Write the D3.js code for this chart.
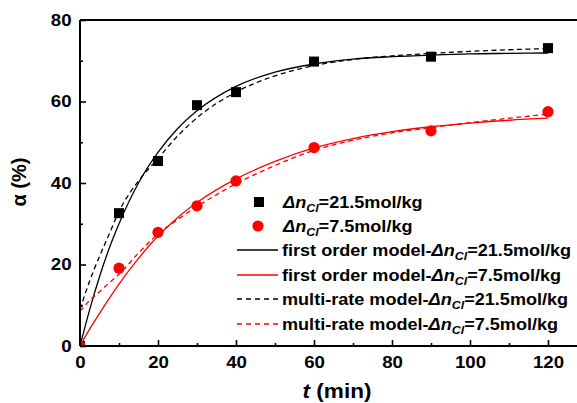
<!DOCTYPE html>
<html>
<head>
<meta charset="utf-8">
<script src="https://cdn.jsdelivr.net/npm/d3@7"></script>
<style>
  html, body { margin: 0; padding: 0; background: #fff; }
  svg { display: block; }
  text { font-family: "Liberation Sans", Arial, sans-serif; font-weight: bold; }
</style>
</head>
<body>
<svg id="chart" width="577" height="403"></svg>
<script>
// ---- data ----
const sampleTimes = [0, 10, 20, 30, 40, 60, 90, 120];
const exp21 = [0, 32.6, 45.4, 59.1, 62.3, 69.8, 71.0, 73.1];
const exp75 = [0, 19.1, 27.9, 34.4, 40.5, 48.7, 52.8, 57.5];

const modelTimes = [0, 2.5, 5, 7.5, 10, 15, 20, 25, 30, 40, 50, 60, 70, 80, 90, 100, 110, 120];
const firstOrder21 = [0, 9.0, 17.0, 24.0, 30.0, 40.0, 47.5, 53.3, 57.7, 63.7, 67.2, 69.2, 70.4, 71.0, 71.4, 71.7, 71.8, 71.9];
const firstOrder75 = [0, 4.2, 8.0, 11.7, 15.2, 21.5, 27.0, 31.5, 35.2, 41.0, 45.3, 48.6, 50.9, 52.6, 53.8, 54.7, 55.4, 55.9];
const multiRate21 = [9.0, 16.0, 22.0, 27.5, 33.0, 40.5, 46.0, 51.5, 56.0, 62.3, 66.3, 68.8, 70.3, 71.2, 71.8, 72.3, 72.7, 73.0];
const multiRate75 = [8.5, 11.2, 13.3, 15.5, 17.6, 22.8, 27.5, 31.0, 34.2, 39.8, 44.3, 48.0, 50.5, 52.3, 53.6, 54.8, 55.9, 56.9];

const xMajorTicks = [0, 20, 40, 60, 80, 100, 120];
const xMinorTicks = [10, 30, 50, 70, 90, 110, 130];
const yMajorTicks = [0, 20, 40, 60, 80];
const yMinorTicks = [10, 30, 50, 70];

const legendLabels = [
  {type: "square", color: "#000", pre: "", val: "=21.5mol/kg"},
  {type: "circle", color: "#ff0000", pre: "", val: "=7.5mol/kg"},
  {type: "solid", color: "#000", pre: "first order model-", val: "=21.5mol/kg"},
  {type: "solid", color: "#ff0000", pre: "first order model-", val: "=7.5mol/kg"},
  {type: "dashed", color: "#000", pre: "multi-rate model-", val: "=21.5mol/kg"},
  {type: "dashed", color: "#ff0000", pre: "multi-rate model-", val: "=7.5mol/kg"}
];

// ---- layout ----
const svg = d3.select("#chart");
const SX = 1.13; // horizontal stretch of text in the reference
const x = d3.scaleLinear().domain([0, 130]).range([80, 587]);
const y = d3.scaleLinear().domain([0, 80]).range([346, 20]);

svg.append("defs").append("clipPath").attr("id", "plotclip")
  .append("rect").attr("x", x(0)).attr("y", y(80)).attr("width", 600 - x(0)).attr("height", y(0) - y(80));

// frame
svg.append("line").attr("x1", x(0)).attr("x2", 600).attr("y1", y(80)).attr("y2", y(80))
  .attr("stroke", "#000").attr("stroke-width", 2);

// model curves and markers (clipped to plot area)
const plot = svg.append("g").attr("clip-path", "url(#plotclip)");
const line = (vals) => d3.line().curve(d3.curveMonotoneX)
  .x((d, i) => x(modelTimes[i])).y(d => y(d))(vals);
plot.append("path").attr("d", line(firstOrder21)).attr("fill", "none").attr("stroke", "#000").attr("stroke-width", 1.3);
plot.append("path").attr("d", line(multiRate21)).attr("fill", "none").attr("stroke", "#000").attr("stroke-width", 1.3).attr("stroke-dasharray", "5,3.5");
plot.append("path").attr("d", line(firstOrder75)).attr("fill", "none").attr("stroke", "#ff0000").attr("stroke-width", 1.3);
plot.append("path").attr("d", line(multiRate75)).attr("fill", "none").attr("stroke", "#ff0000").attr("stroke-width", 1.3).attr("stroke-dasharray", "5,3.5");

const sq = 10;
plot.selectAll("rect.s21").data(exp21).join("rect").attr("class", "s21")
  .attr("x", (d, i) => x(sampleTimes[i]) - sq / 2).attr("y", d => y(d) - sq / 2)
  .attr("width", sq).attr("height", sq).attr("fill", "#000");
plot.selectAll("circle.s75").data(exp75).join("circle").attr("class", "s75")
  .attr("cx", (d, i) => x(sampleTimes[i])).attr("cy", d => y(d))
  .attr("r", 5.6).attr("fill", "#ff0000");

// axes
const gx = svg.append("g").attr("transform", `translate(0,${y(0)})`);
gx.call(d3.axisBottom(x).tickValues(xMajorTicks).tickSizeInner(-6).tickSizeOuter(0).tickPadding(10).tickFormat(d3.format("d")));
const gxm = svg.append("g").attr("transform", `translate(0,${y(0)})`);
gxm.call(d3.axisBottom(x).tickValues(xMinorTicks).tickSizeInner(-3).tickSizeOuter(0).tickFormat(""));
gxm.select(".domain").remove();

const gy = svg.append("g").attr("transform", `translate(${x(0)},0)`);
gy.call(d3.axisLeft(y).tickValues(yMajorTicks).tickSizeInner(-6).tickSizeOuter(0).tickPadding(8).tickFormat(d3.format("d")));
const gym = svg.append("g").attr("transform", `translate(${x(0)},0)`);
gym.call(d3.axisLeft(y).tickValues(yMinorTicks).tickSizeInner(-3).tickSizeOuter(0).tickFormat(""));
gym.select(".domain").remove();

svg.selectAll(".domain").attr("stroke-width", 2);
svg.selectAll(".tick line").attr("stroke-width", 1.6);
gx.selectAll(".domain").attr("d", `M${x(0)},0H600`);
gy.selectAll(".domain").attr("d", `M0,${y(80)}V${y(0)}`);
[gx, gy].forEach(g => g.selectAll("text")
  .attr("font-size", 16.5).attr("font-family", "Liberation Sans, Arial, sans-serif")
  .attr("font-weight", "bold").attr("fill", "#000"));
gx.selectAll("text").attr("transform", `scale(${SX},1)`);
gy.selectAll("text").attr("transform", `scale(${SX},1)`).attr("x", -7.5);

// axis titles
const xt = svg.append("text").attr("transform", `translate(337,398) scale(${SX},1)`)
  .attr("text-anchor", "middle").attr("font-size", 20);
xt.append("tspan").attr("font-style", "italic").text("t");
xt.append("tspan").text(" (min)");
svg.append("text").attr("transform", "translate(26,182) rotate(-90)")
  .attr("text-anchor", "middle").attr("font-size", 20).text("α (%)");

// legend
const legY = [202, 226, 250, 275, 299, 324];
const leg = svg.append("g");
legendLabels.forEach((L, i) => {
  const cy = legY[i];
  if (L.type === "square") {
    leg.append("rect").attr("x", 259 - sq / 2).attr("y", cy - sq / 2).attr("width", sq).attr("height", sq).attr("fill", L.color);
  } else if (L.type === "circle") {
    leg.append("circle").attr("cx", 258).attr("cy", cy).attr("r", 5.6).attr("fill", L.color);
  } else {
    leg.append("line").attr("x1", 237).attr("x2", 278).attr("y1", cy).attr("y2", cy)
      .attr("stroke", L.color).attr("stroke-width", 1.3)
      .attr("stroke-dasharray", L.type === "dashed" ? "5,4" : null);
  }
  const tx = leg.append("text").attr("transform", `translate(${L.pre ? 282 : 283},${cy + 5.5}) scale(${SX},1)`)
    .attr("font-size", 16);
  if (L.pre) tx.append("tspan").text(L.pre);
  tx.append("tspan").attr("font-style", "italic").text("Δn");
  tx.append("tspan").attr("font-style", "italic").attr("font-size", 11).attr("dy", 4).text("Cl");
  tx.append("tspan").attr("dy", -4).text(L.val);
});
</script>
</body>
</html>
